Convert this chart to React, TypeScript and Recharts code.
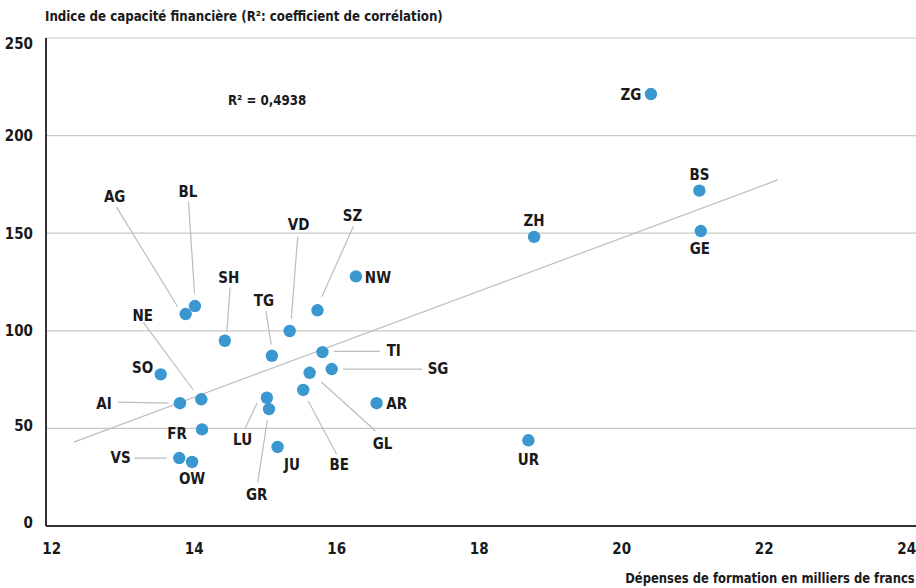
import React from "react";
import {
  ScatterChart,
  Scatter,
  XAxis,
  YAxis,
  CartesianGrid,
  ReferenceLine,
} from "recharts";

// cantons, dépenses de formation (milliers de francs), indice de capacité financière
const cantons = ["ZG", "BS", "GE", "ZH", "UR", "NW", "SZ", "VD", "TG", "SH", "BL", "AG", "NE", "SO", "AI", "FR", "VS", "OW", "LU", "GR", "JU", "TI", "SG", "GL", "BE", "AR"];
const depenses = [20.41, 21.09, 21.11, 18.77, 18.69, 16.27, 15.73, 15.34, 15.09, 14.43, 14.01, 13.88, 14.1, 13.53, 13.8, 14.11, 13.79, 13.97, 15.02, 15.05, 15.17, 15.8, 15.93, 15.62, 15.53, 16.56];
const capacite = [221.3, 171.8, 151.1, 148.1, 43.9, 127.9, 110.5, 99.9, 87.2, 94.9, 112.7, 108.6, 64.9, 77.7, 62.9, 49.5, 34.8, 32.8, 65.7, 59.9, 40.5, 89.1, 80.4, 78.5, 69.7, 62.9];

const trendX = [12.31, 22.19];
const trendY = [43, 177.3];

const xTicks = [12, 14, 16, 18, 20, 22, 24];
const yTicks = [0, 50, 100, 150, 200, 250];

const FONT = "'Liberation Sans Narrow', 'DejaVu Sans Condensed', sans-serif";
const TEXT = "#1a1a1a";
const DOT = "#3a97cf";
const LEADER = "#bdbdbd";

// label placement relative to the dot (px): dx, dy, optional leader line
type Place = { dx: number; dy: number; line?: [number, number, number, number] };
const placement: Record<string, Place> = {
  ZG: { dx: -20, dy: 1 },
  BS: { dx: 0, dy: -16 },
  GE: { dx: -1, dy: 18 },
  ZH: { dx: 0, dy: -16 },
  UR: { dx: 0, dy: 19 },
  NW: { dx: 22, dy: 1 },
  SZ: { dx: 35, dy: -95, line: [36, -84, 4.4, -13.6] },
  VD: { dx: 9, dy: -106, line: [8, -94, 1.6, -12] },
  TG: { dx: -8, dy: -55, line: [-6, -45, -0.7, -11.4] },
  SH: { dx: 4, dy: -63, line: [5.3, -53.4, 2, -9] },
  BL: { dx: -7, dy: -114, line: [-6.4, -104.3, -0.4, -12.7] },
  AG: { dx: -71, dy: -117, line: [-69, -106.7, -8, -7.3] },
  NE: { dx: -58.6, dy: -84, line: [-58, -77, -8, -9.3] },
  SO: { dx: -18, dy: -7 },
  AI: { dx: -76, dy: 0, line: [-62, -1, -11.3, 0] },
  FR: { dx: -25, dy: 4 },
  VS: { dx: -58.6, dy: 0, line: [-45, 0, -12.6, 0] },
  OW: { dx: 0, dy: 17 },
  LU: { dx: -24.3, dy: 42, line: [-22, 31.3, -9.7, 5] },
  GR: { dx: -12.3, dy: 86, line: [-11.3, 73, -1.7, 11] },
  JU: { dx: 14.4, dy: 17.3 },
  TI: { dx: 71.3, dy: -1.3, line: [11.3, -0.7, 57.3, -0.7] },
  SG: { dx: 106.3, dy: 0, line: [11.3, 0, 90.3, 0] },
  GL: { dx: 73, dy: 70.6, line: [11.4, 9, 65.7, 58] },
  BE: { dx: 36, dy: 75, line: [5, 11, 33.4, 64.3] },
  AR: { dx: 20, dy: 0.7 },
};

const data = cantons.map((name, i) => ({ name, x: depenses[i], y: capacite[i] }));

const CantonDot = (props: any) => {
  const { cx, cy, payload } = props;
  if (cx == null || cy == null) return null;
  const p = placement[payload.name] || { dx: 0, dy: -16 };
  return (
    <g>
      {p.line && (
        <line
          x1={cx + p.line[0]}
          y1={cy + p.line[1]}
          x2={cx + p.line[2]}
          y2={cy + p.line[3]}
          stroke={LEADER}
          strokeWidth={1.2}
        />
      )}
      <circle cx={cx} cy={cy} r={6.2} fill={DOT} />
      <text
        x={cx + p.dx}
        y={cy + p.dy}
        dy="0.36em"
        textAnchor="middle"
        fontFamily={FONT}
        fontWeight="bold"
        fontSize={15}
        fill={TEXT}
      >
        {payload.name}
      </text>
    </g>
  );
};

const tickStyle = { fontFamily: FONT, fontWeight: "bold", fontSize: 15, fill: TEXT };

// y labels: top one sits just under its gridline, low ones slightly above
const YTick = (props: any) => {
  const { x, y, payload } = props;
  const v = payload.value;
  const shift = v === 250 ? 6 : v <= 50 ? -3 : 0;
  return (
    <text x={x} y={y + shift} dy="0.36em" textAnchor="end" {...tickStyle}>
      {v}
    </text>
  );
};

const overlayText = {
  position: "absolute" as const,
  fontFamily: FONT,
  fontWeight: "bold",
  fontSize: 14,
  lineHeight: "16px",
  color: TEXT,
  whiteSpace: "nowrap" as const,
};

export default function App() {
  return (
    <div style={{ position: "absolute", left: 0, top: 0, width: 916, height: 588, background: "#fff" }}>
      <div style={{ ...overlayText, left: 45, top: 8, transform: "scaleX(0.94)", transformOrigin: "left center" }}>
        Indice de capacité financière (R²: coefficient de corrélation)
      </div>
      <ScatterChart width={916} height={588} margin={{ top: 38, right: 0, bottom: 32, left: 0 }}>
        <CartesianGrid horizontal vertical={false} stroke="#c8c8c8" strokeWidth={1.2} />
        <XAxis
          type="number"
          dataKey="x"
          domain={[11.92, 24.13]}
          allowDataOverflow
          ticks={xTicks}
          height={30}
          tickLine={false}
          tickSize={0}
          tickMargin={17}
          axisLine={{ stroke: "#333", strokeWidth: 2 }}
          tick={tickStyle}
        />
        <YAxis
          type="number"
          dataKey="y"
          domain={[0, 250]}
          allowDataOverflow
          ticks={yTicks}
          width={46}
          tickLine={false}
          tickSize={0}
          tickMargin={13}
          axisLine={{ stroke: "#333", strokeWidth: 2 }}
          tick={<YTick />}
        />
        <ReferenceLine
          segment={[
            { x: trendX[0], y: trendY[0] },
            { x: trendX[1], y: trendY[1] },
          ]}
          stroke="#bdbdbd"
          strokeWidth={1.2}
        />
        <Scatter data={data} shape={CantonDot} isAnimationActive={false} />
      </ScatterChart>
      <div style={{ ...overlayText, left: 228, top: 92, transform: "scaleX(0.94)", transformOrigin: "left center" }}>
        R² = 0,4938
      </div>
      <div style={{ ...overlayText, right: 1, top: 570, transform: "scaleX(0.92)", transformOrigin: "right center" }}>
        Dépenses de formation en milliers de francs
      </div>
    </div>
  );
}
